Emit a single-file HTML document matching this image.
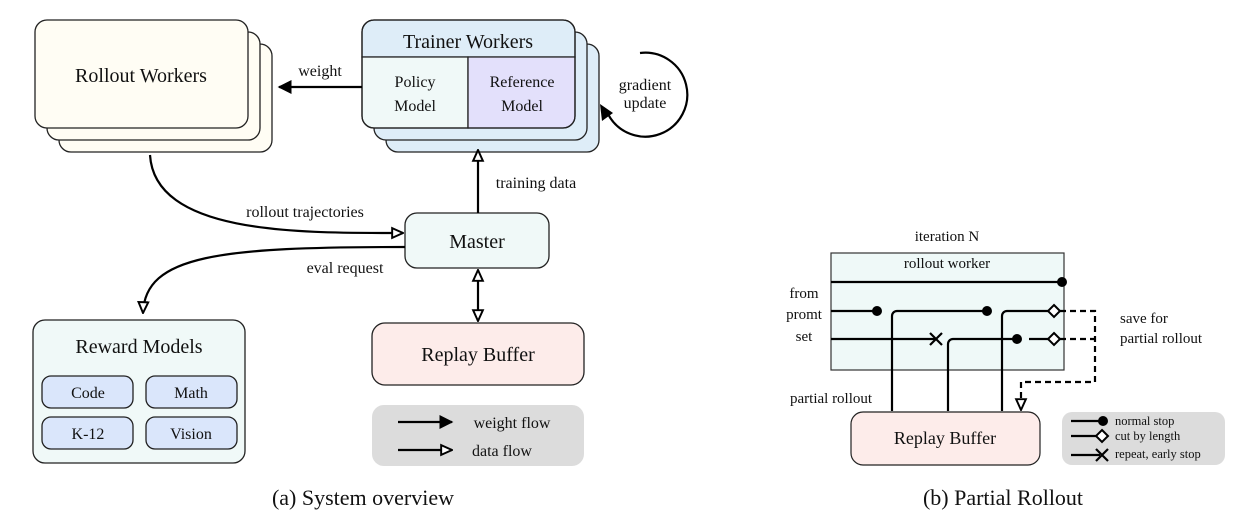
<!DOCTYPE html>
<html><head><meta charset="utf-8"><style>
html,body{margin:0;padding:0;background:#fff;}
svg{display:block;font-family:"Liberation Serif","Times New Roman",serif;}
</style></head><body>
<svg width="1251" height="529" viewBox="0 0 1251 529" xmlns="http://www.w3.org/2000/svg">
<defs>
<marker id="fa" viewBox="0 0 10 10" refX="9" refY="5" markerWidth="14" markerHeight="14" orient="auto" markerUnits="userSpaceOnUse"><path d="M0,0 L10,5 L0,10 z" fill="#000"/></marker>
<marker id="ha" viewBox="0 0 12 12" refX="11" refY="6" markerWidth="13" markerHeight="13" orient="auto" markerUnits="userSpaceOnUse"><path d="M1,1.5 L11,6 L1,10.5 z" fill="#fff" stroke="#000" stroke-width="1.8"/></marker>
</defs>
<g stroke="#222" stroke-width="1.3">
<rect x="59" y="44" width="213" height="108" rx="12" fill="#fffdf4"/>
<rect x="47" y="32" width="213" height="108" rx="12" fill="#fffdf4"/>
<rect x="35" y="20" width="213" height="108" rx="12" fill="#fffdf4"/>
<rect x="386" y="44" width="213" height="108" rx="12" fill="#deedf8"/>
<rect x="374" y="32" width="213" height="108" rx="12" fill="#deedf8"/>
<path d="M362,57 V32 a12,12 0 0 1 12,-12 H563 a12,12 0 0 1 12,12 V57 z" fill="#deedf8"/>
<path d="M362,57 H468 V128 H374 a12,12 0 0 1 -12,-12 z" fill="#f0f9f8"/>
<path d="M468,57 H575 V116 a12,12 0 0 1 -12,12 H468 z" fill="#e3e0fb"/>
<rect x="362" y="20" width="213" height="108" rx="12" fill="none"/>
<rect x="405" y="213" width="144" height="55" rx="12" fill="#f0f9f8"/>
<rect x="372" y="323" width="212" height="62" rx="13" fill="#fdecea"/>
<rect x="33" y="320" width="212" height="143" rx="12" fill="#f0f9f8"/>
<rect x="42" y="376" width="91" height="32" rx="9" fill="#dae6fb"/>
<rect x="146" y="376" width="91" height="32" rx="9" fill="#dae6fb"/>
<rect x="42" y="417" width="91" height="32" rx="9" fill="#dae6fb"/>
<rect x="146" y="417" width="91" height="32" rx="9" fill="#dae6fb"/>
</g>
<rect x="372" y="405" width="212" height="61" rx="12" fill="#dcdcdc"/>
<g stroke="#000" stroke-width="2.2" fill="none">
<line x1="362" y1="87" x2="279" y2="87" marker-end="url(#fa)"/>
<path d="M640,53 A42,42 0 1 1 608,114" />
<path d="M150,155 C155,235 300,233 403,233" marker-end="url(#ha)"/>
<path d="M405,247 C220,247 145,255 143,313" marker-end="url(#ha)"/>
<line x1="478" y1="213" x2="478" y2="150" marker-end="url(#ha)"/>
<line x1="478" y1="296" x2="478" y2="270" marker-end="url(#ha)"/>
<line x1="478" y1="296" x2="478" y2="321" marker-end="url(#ha)"/>
<line x1="398" y1="422" x2="452" y2="422" marker-end="url(#fa)"/>
<line x1="398" y1="450" x2="452" y2="450" marker-end="url(#ha)"/>
</g>
<path d="M600,104 L613,113 L602,121 z" fill="#000"/>
<g font-size="20" text-anchor="middle" fill="#111">
<text x="141" y="82">Rollout Workers</text>
<text x="468" y="48">Trainer Workers</text>
<text x="477" y="248">Master</text>
<text x="478" y="361">Replay Buffer</text>
<text x="139" y="353">Reward Models</text>
</g>
<g font-size="16" text-anchor="middle" fill="#111">
<text x="415" y="87">Policy</text><text x="415" y="111">Model</text>
<text x="522" y="87">Reference</text><text x="522" y="111">Model</text>
<text x="645" y="90">gradient</text><text x="645" y="108">update</text>
<text x="320" y="76">weight</text>
<text x="305" y="217">rollout trajectories</text>
<text x="536" y="188">training data</text>
<text x="345" y="273">eval request</text>
<text x="88" y="398">Code</text><text x="191" y="398">Math</text>
<text x="88" y="439">K-12</text><text x="191" y="439">Vision</text>
<text x="512" y="428">weight flow</text>
<text x="502" y="456">data flow</text>
</g>
<g font-size="22" text-anchor="middle" fill="#111">
<text x="363" y="505">(a) System overview</text>
<text x="1003" y="505">(b) Partial Rollout</text>
</g>
<rect x="831" y="253" width="233" height="117" fill="#eff9f8" stroke="#333" stroke-width="1.2"/>
<rect x="851" y="412" width="189" height="53" rx="12" fill="#fdecea" stroke="#222" stroke-width="1.2"/>
<rect x="1062" y="412" width="163" height="53" rx="10" fill="#dcdcdc"/>
<g stroke="#000" stroke-width="2.2" fill="none">
<line x1="831" y1="282" x2="1062" y2="282"/>
<line x1="831" y1="311" x2="877" y2="311"/>
<path d="M892,411 V316 a5,5 0 0 1 5,-5 H987"/>
<path d="M1002,411 V316 a5,5 0 0 1 5,-5 H1050"/>
<line x1="831" y1="339" x2="936" y2="339"/>
<path d="M948,411 V344 a5,5 0 0 1 5,-5 H1017"/>
<line x1="1029" y1="339" x2="1050" y2="339"/>
<path d="M1060,311 H1095 V382 H1021 V410" stroke-dasharray="6,4" marker-end="url(#ha)"/>
<line x1="1060" y1="339" x2="1095" y2="339" stroke-dasharray="6,4"/>
<path d="M930,333 L942,345 M942,333 L930,345"/>
<line x1="1071" y1="421" x2="1100" y2="421"/>
<line x1="1071" y1="436" x2="1096" y2="436"/>
<line x1="1071" y1="455" x2="1100" y2="455"/>
<path d="M1096,449 L1108,461 M1108,449 L1096,461"/>
</g>
<g fill="#000">
<circle cx="1062" cy="282" r="5"/><circle cx="877" cy="311" r="5"/><circle cx="987" cy="311" r="5"/><circle cx="1017" cy="339" r="5"/>
<circle cx="1103" cy="421" r="5"/>
</g>
<g fill="#fff" stroke="#000" stroke-width="2">
<path d="M1054,305 L1060,311 L1054,317 L1048,311 z"/>
<path d="M1054,333 L1060,339 L1054,345 L1048,339 z"/>
<path d="M1102,430 L1108,436 L1102,442 L1096,436 z"/>
</g>
<g font-size="15" fill="#111">
<text x="947" y="241" text-anchor="middle">iteration N</text>
<text x="947" y="268" text-anchor="middle">rollout worker</text>
<text x="804" y="298" text-anchor="middle">from</text>
<text x="804" y="319" text-anchor="middle">promt</text>
<text x="804" y="341" text-anchor="middle">set</text>
<text x="1120" y="323">save for</text>
<text x="1120" y="343">partial rollout</text>
<text x="790" y="403">partial rollout</text>
<text x="945" y="444" font-size="18" text-anchor="middle">Replay Buffer</text>
</g>
<g font-size="12.5" fill="#111">
<text x="1115" y="425">normal stop</text>
<text x="1115" y="440">cut by length</text>
<text x="1115" y="458">repeat, early stop</text>
</g>
</svg>
</body></html>
